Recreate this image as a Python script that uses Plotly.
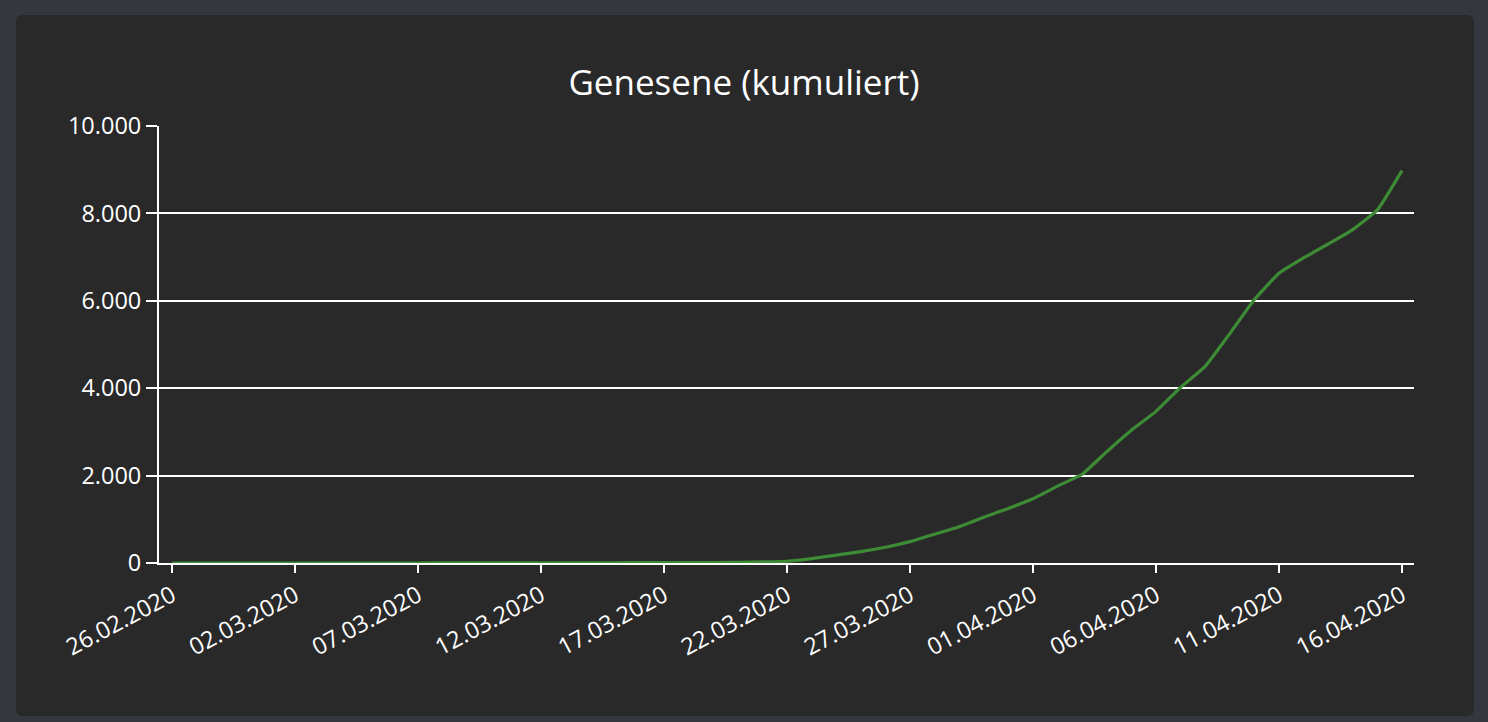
import plotly.graph_objects as go
import pandas as pd

# ---- data ----
start_date = "2020-02-26"
end_date = "2020-04-16"
recovered = [
    0, 0, 0, 0, 0, 0, 0, 0, 0, 0,      # 26.02 - 06.03
    0, 2, 2, 2, 4, 6, 6, 6, 6, 8,      # 07.03 - 16.03
    9, 9, 10, 15, 25, 40,              # 17.03 - 22.03
    100, 180, 260, 360, 490, 660, 830, 1045, 1250,   # 23.03 - 31.03
    1470, 1760, 2030, 2550, 3040, 3470, 4020, 4500, 5250, 6030,  # 01.04 - 10.04
    6630, 6980, 7300, 7630, 8080, 8980,  # 11.04 - 16.04
]
dates = pd.date_range(start_date, end_date, freq="D")
y_ticks = [0, 2000, 4000, 6000, 8000, 10000]

title_text = "Genesene (kumuliert)"

# ---- layout geometry (pixels) ----
W, H = 1488, 722
L, R, T, B = 159, 1414, 126, 563
pw, ph = R - L, B - T
OUTER = "#34383e"
CARD = "#292929"

def px_x(p):
    return (p - L) / pw

def px_y(p):
    return (B - p) / ph

# rounded card
cx0, cx1, cy0, cy1 = 16, 1474, 15, 716
rad = 7
def pt(x, y):
    return f"{px_x(x):.5f},{px_y(y):.5f}"

card_path = (
    f"M {pt(cx0 + rad, cy0)} L {pt(cx1 - rad, cy0)} Q {pt(cx1, cy0)} {pt(cx1, cy0 + rad)} "
    f"L {pt(cx1, cy1 - rad)} Q {pt(cx1, cy1)} {pt(cx1 - rad, cy1)} "
    f"L {pt(cx0 + rad, cy1)} Q {pt(cx0, cy1)} {pt(cx0, cy1 - rad)} "
    f"L {pt(cx0, cy0 + rad)} Q {pt(cx0, cy0)} {pt(cx0 + rad, cy0)} Z"
)

font_family = "Open Sans, Noto Sans, sans-serif"
tick_size = 23.5

fig = go.Figure()
fig.add_trace(go.Scatter(
    x=dates, y=recovered, mode="lines",
    line=dict(color="#3d8b35", width=3.2, shape="spline", smoothing=0.35),
    hoverinfo="x+y", showlegend=False,
))

fig.update_layout(
    width=W, height=H,
    margin=dict(l=L, r=W - R, t=T, b=H - B, pad=0),
    paper_bgcolor=OUTER,
    plot_bgcolor="rgba(0,0,0,0)",
    separators=",.",
    font=dict(family=font_family, color="#ffffff", size=20),
    title=dict(
        text=title_text, x=0.5, xref="container", xanchor="center",
        y=1 - 83 / H, yref="container", yanchor="middle",
        font=dict(size=35, color="#ffffff", family=font_family),
    ),
    shapes=[dict(
        type="path", path=card_path, xref="paper", yref="paper",
        fillcolor=CARD, line=dict(width=0), layer="below",
    )],
    xaxis=dict(
        type="date",
        range=["2020-02-25 11:18", "2020-04-16 11:42"],
        tick0=start_date, dtick=5 * 86400000,
        tickformat="%d.%m.%Y", tickangle=-28,
        ticks="outside", ticklen=8, tickwidth=2, tickcolor="#ffffff",
        showline=True, linecolor="#ffffff", linewidth=2,
        showgrid=False, zeroline=False,
        tickfont=dict(size=tick_size, color="#ffffff"),
        fixedrange=True,
    ),
    yaxis=dict(
        range=[0, 10000], tickvals=y_ticks, tickformat=",d",
        ticks="outside", ticklen=11, tickwidth=2, tickcolor="#ffffff",
        showline=True, linecolor="#ffffff", linewidth=2,
        showgrid=True, gridcolor="#ffffff", gridwidth=2,
        zeroline=False,
        tickfont=dict(size=tick_size, color="#ffffff"),
        fixedrange=True,
    ),
)

fig.write_html(
    "out.html",
    config={"displayModeBar": False},
    post_script=(
        f"document.body.style.margin='0';"
        f"document.body.style.background='{OUTER}';"
        f"document.documentElement.style.background='{OUTER}';"
    ),
)
